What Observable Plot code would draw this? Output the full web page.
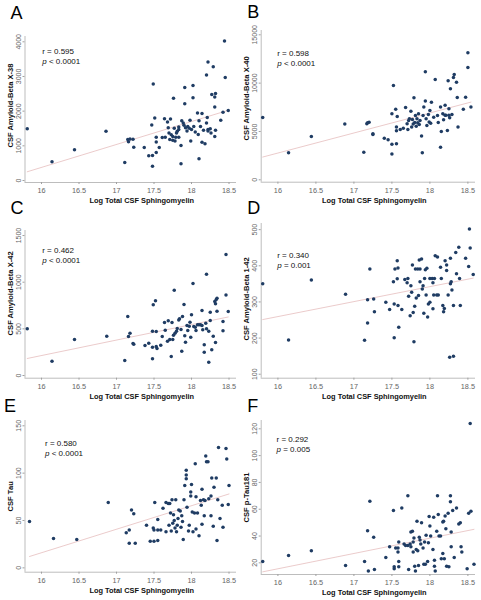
<!DOCTYPE html>
<html>
<head>
<meta charset="utf-8">
<script src="https://cdn.jsdelivr.net/npm/d3@7"></script>
<script src="https://cdn.jsdelivr.net/npm/@observablehq/plot@0.6"></script>
<style>
  html, body { margin: 0; padding: 0; background: #fff; }
  #wrap { position: relative; width: 481px; height: 600px; overflow: hidden; background: #fff; }
  .panel { position: absolute; }
  .panel svg { overflow: visible; }
</style>
</head>
<body>
<div id="wrap"></div>
<script>
// ---- shared values ----
const xLabel = "Log Total CSF Sphingomyelin";
const xTicks = [16, 16.5, 17, 17.5, 18, 18.5];

// ---- panel A: CSF Amyloid-Beta X-38 ----
const ptsA = [[15.81,1490],[16.14,540],[16.44,890],[16.86,1420],[17.11,520],[17.15,1180],[17.16,1120],[17.18,1200],[17.22,1190],[17.23,960],[17.37,950],[17.43,710],[17.47,1600],[17.48,720],[17.48,410],[17.49,2780],[17.51,1800],[17.53,1250],[17.53,1110],[17.53,810],[17.57,950],[17.61,1240],[17.64,1780],[17.65,1250],[17.68,1690],[17.69,1520],[17.70,1370],[17.71,1180],[17.72,1770],[17.73,1320],[17.75,1160],[17.76,2370],[17.75,1270],[17.77,1510],[17.78,1140],[17.79,1250],[17.80,1370],[17.81,1420],[17.83,1470],[17.83,1540],[17.86,1010],[17.86,480],[17.87,1720],[17.89,1660],[17.90,1590],[17.91,2210],[17.91,2680],[17.92,1520],[17.94,1430],[17.95,1560],[17.97,1510],[17.98,1740],[17.99,1140],[18.00,1470],[18.02,2740],[18.02,2390],[18.03,1560],[18.05,1400],[18.08,1950],[18.09,1330],[18.10,630],[18.10,1720],[18.12,1560],[18.14,1930],[18.14,1100],[18.16,1450],[18.18,1060],[18.20,3040],[18.22,3420],[18.20,1660],[18.22,1470],[18.22,1430],[18.21,1820],[18.25,1490],[18.27,2480],[18.29,3280],[18.32,2510],[18.31,2410],[18.31,2120],[18.31,1270],[18.32,1450],[18.39,1740],[18.42,1970],[18.44,4020],[18.45,2970],[18.49,2020],[18.26,1370],[17.83,1250]];
const ticksA = [0, 1000, 2000, 3000, 4000];

// ---- panel B: CSF Amyloid-Beta X-40 ----
const ptsB = [[15.80,6450],[16.14,2790],[16.44,4480],[16.88,5760],[17.13,2860],[17.17,5790],[17.18,5900],[17.20,5960],[17.25,4760],[17.25,4690],[17.40,4310],[17.45,4140],[17.50,6830],[17.50,3690],[17.50,2660],[17.52,9760],[17.55,7310],[17.56,5450],[17.56,5070],[17.57,6550],[17.56,3720],[17.61,5210],[17.65,5340],[17.68,7480],[17.70,5790],[17.71,5210],[17.73,6310],[17.75,7100],[17.76,5450],[17.77,6240],[17.78,5760],[17.79,8480],[17.80,5930],[17.82,5550],[17.83,6310],[17.84,5900],[17.85,6830],[17.86,5720],[17.87,6140],[17.89,4520],[17.90,2790],[17.91,6660],[17.92,7520],[17.94,11170],[17.94,8140],[17.95,6310],[17.96,5620],[17.98,6760],[17.99,5970],[18.00,7170],[18.01,5860],[18.02,8030],[18.07,10380],[18.05,6480],[18.10,6660],[18.11,5930],[18.14,7520],[18.14,3380],[18.15,5000],[18.17,6830],[18.18,6210],[18.20,6690],[18.20,7720],[18.21,6690],[18.23,5100],[18.24,10240],[18.25,7340],[18.25,6690],[18.26,6410],[18.27,9410],[18.29,6760],[18.31,10590],[18.32,10900],[18.35,10100],[18.36,8520],[18.37,5450],[18.44,7310],[18.47,8550],[18.50,13140],[18.50,11620],[18.54,7520],[17.81,6660],[17.72,6140]];
const ticksB = [0, 5000, 10000, 15000];

// ---- panel C: CSF Amyloid-Beta X-42 ----
const ptsC = [[15.81,500],[16.14,154],[16.44,386],[16.87,421],[17.11,161],[17.15,632],[17.16,418],[17.18,454],[17.22,343],[17.23,336],[17.38,321],[17.43,346],[17.48,475],[17.48,304],[17.48,179],[17.49,757],[17.52,800],[17.53,471],[17.53,311],[17.54,289],[17.59,325],[17.61,418],[17.64,568],[17.65,486],[17.68,368],[17.69,586],[17.71,386],[17.73,204],[17.74,568],[17.75,386],[17.76,432],[17.77,914],[17.78,454],[17.80,475],[17.81,504],[17.83,596],[17.84,607],[17.86,493],[17.87,261],[17.88,632],[17.90,761],[17.91,425],[17.92,357],[17.94,536],[17.95,482],[17.97,529],[17.98,571],[17.99,411],[18.00,650],[18.02,986],[18.03,525],[18.05,518],[18.06,482],[18.08,543],[18.10,543],[18.12,543],[18.14,536],[18.14,696],[18.15,489],[18.17,250],[18.17,329],[18.19,561],[18.20,500],[18.20,1086],[18.23,143],[18.23,475],[18.25,679],[18.25,589],[18.27,275],[18.29,421],[18.31,793],[18.33,814],[18.34,828],[18.32,354],[18.34,689],[18.32,768],[18.42,479],[18.46,1296],[18.46,864],[18.49,686],[18.42,579]];
const ticksC = [0, 500, 1000, 1500];

// ---- panel D: CSF Amyloid-Beta 1-42 ----
const ptsD = [[15.80,350],[16.14,195],[16.44,361],[16.89,321],[17.14,194],[17.18,242],[17.18,306],[17.21,391],[17.26,308],[17.27,273],[17.42,299],[17.47,279],[17.52,356],[17.53,294],[17.53,201],[17.54,391],[17.57,364],[17.57,414],[17.58,394],[17.58,290],[17.59,230],[17.63,279],[17.67,362],[17.70,353],[17.71,365],[17.72,316],[17.74,262],[17.75,345],[17.76,327],[17.77,402],[17.78,271],[17.79,190],[17.80,288],[17.81,391],[17.82,311],[17.84,391],[17.85,318],[17.86,416],[17.87,391],[17.87,356],[17.89,419],[17.90,336],[17.91,345],[17.92,269],[17.93,365],[17.94,389],[17.95,319],[17.96,393],[17.97,258],[17.98,294],[18.00,365],[18.00,299],[18.03,365],[18.04,353],[18.04,281],[18.05,319],[18.06,365],[18.07,428],[18.09,319],[18.10,424],[18.11,319],[18.14,396],[18.15,365],[18.17,290],[18.18,273],[18.19,282],[18.20,414],[18.22,402],[18.22,387],[18.24,319],[18.26,147],[18.27,421],[18.27,350],[18.28,356],[18.29,333],[18.31,150],[18.31,290],[18.34,437],[18.35,378],[18.38,451],[18.39,365],[18.40,290],[18.47,421],[18.51,398],[18.52,502],[18.53,449],[18.57,376]];
const ticksD = [100, 200, 300, 400, 500];

// ---- panel E: CSF Tau ----
const ptsE = [[15.84,49],[16.16,31],[16.47,30],[16.89,69],[17.13,37],[17.17,40],[17.17,26],[17.20,61],[17.23,57],[17.25,26],[17.40,45],[17.45,28],[17.49,42],[17.50,40],[17.50,28],[17.51,69],[17.55,40],[17.55,51],[17.55,29],[17.59,40],[17.62,63],[17.66,69],[17.66,38],[17.69,68],[17.70,45],[17.71,68],[17.72,58],[17.73,39],[17.74,72],[17.75,47],[17.76,56],[17.77,50],[17.78,42],[17.79,72],[17.80,38],[17.81,45],[17.82,52],[17.83,61],[17.85,60],[17.86,43],[17.87,55],[17.88,49],[17.89,30],[17.90,72],[17.91,87],[17.93,103],[17.93,94],[17.93,98],[17.94,64],[17.96,39],[17.97,45],[17.99,76],[17.99,80],[18.00,88],[18.01,59],[18.02,38],[18.04,58],[18.05,110],[18.06,75],[18.06,41],[18.08,58],[18.10,34],[18.12,71],[18.13,66],[18.14,83],[18.14,46],[18.16,72],[18.17,55],[18.18,71],[18.19,118],[18.20,112],[18.22,112],[18.23,73],[18.26,55],[18.26,76],[18.27,95],[18.29,44],[18.30,85],[18.33,95],[18.34,29],[18.35,72],[18.36,127],[18.38,52],[18.41,66],[18.42,43],[18.46,126],[18.47,115],[18.49,67],[18.50,87]];
const ticksE = [0, 50, 100, 150];

// ---- panel F: CSF p-Tau181 ----
const ptsF = [[15.80,21],[16.14,25.5],[16.44,29],[16.89,18],[17.14,21],[17.18,44],[17.19,14],[17.21,66],[17.26,39],[17.27,15],[17.42,24],[17.47,32],[17.52,59],[17.53,17],[17.53,15.5],[17.55,31],[17.58,31],[17.58,28],[17.59,35.5],[17.59,21],[17.59,17],[17.63,61],[17.66,34],[17.68,33],[17.71,70],[17.71,33],[17.72,15],[17.74,34],[17.75,32],[17.75,43],[17.77,43.5],[17.78,35.5],[17.78,28],[17.79,38.5],[17.80,17.5],[17.81,14],[17.82,30],[17.83,51],[17.84,29],[17.85,18],[17.86,39],[17.87,37],[17.88,34],[17.89,50],[17.91,31],[17.92,19],[17.93,35.5],[17.94,19],[17.95,40.5],[17.97,21],[17.98,35],[17.99,54.5],[18.00,47.5],[18.01,40],[18.04,30],[18.05,54],[18.06,17.5],[18.06,22],[18.07,14],[18.09,43.5],[18.10,70],[18.11,56],[18.12,40],[18.14,40],[18.15,23],[18.17,27],[18.17,50.5],[18.18,51],[18.19,23],[18.20,55],[18.21,45.5],[18.22,17.5],[18.24,57],[18.25,17],[18.27,70],[18.27,65.5],[18.28,43],[18.28,32],[18.30,59],[18.32,24],[18.35,61],[18.38,49],[18.40,50],[18.41,32],[18.42,28],[18.49,15.5],[18.51,57],[18.54,58.5],[18.53,124],[18.58,19]];
const ticksF = [20, 40, 60, 80, 100, 120];

// ---- labels ----
const letters = ["A", "B", "C", "D", "E", "F"];
const yLabels = ["CSF Amyloid-Beta X-38", "CSF Amyloid-Beta X-40", "CSF Amyloid-Beta X-42", "CSF Amyloid-Beta 1-42", "CSF Tau", "CSF p-Tau181"];
const rTexts = ["r = 0.595", "r = 0.598", "r = 0.462", "r = 0.340", "r = 0.580", "r = 0.292"];
const pTexts = ["< 0.0001", "< 0.0001", "< 0.0001", "= 0.001", "< 0.0001", "= 0.005"];

// ---- layout (positions / sizes only) ----
const layout = [
  {pts: ptsA, ticks: ticksA, yDomain: [-58, 4153],  left: 0,   top: 0,   width: 240, height: 205, mt: 36, mb: 23,   ml: 24.5, mr: 4, ldx: -14.5, ldy: -18, rdx: 17.2, rdy: 14.7, ydy: -4, xdx: 11},
  {pts: ptsB, ticks: ticksB, yDomain: [-248, 15445],left: 240, top: 0,   width: 241, height: 205, mt: 30, mb: 23.3, ml: 20.7, mr: 6, ldx: -14,   ldy: -13, rdx: 16,   rdy: 23.3, ydy: -8, xdx: 6},
  {pts: ptsC, ticks: ticksC, yDomain: [-29, 1554],  left: 0,   top: 195, width: 240, height: 210, mt: 35, mb: 27.3, ml: 24.5, mr: 4, ldx: -14.5, ldy: -17, rdx: 17.2, rdy: 20,   ydy: -11, xdx: 11},
  {pts: ptsD, ticks: ticksD, yDomain: [89, 517],    left: 240, top: 195, width: 241, height: 210, mt: 28, mb: 27.3, ml: 20.7, mr: 6, ldx: -14,   ldy: -10, rdx: 16,   rdy: 32,   ydy: -2, xdx: 6},
  {pts: ptsE, ticks: ticksE, yDomain: [-4.6, 155.6],left: 0,   top: 395, width: 240, height: 205, mt: 25, mb: 28.3, ml: 24.5, mr: 4, ldx: -21,   ldy: -9,  rdx: 20,   rdy: 23.3, ydy: 0, xdx: 11},
  {pts: ptsF, ticks: ticksF, yDomain: [11.3, 126.2],left: 240, top: 395, width: 241, height: 205, mt: 25, mb: 26,   ml: 20.7, mr: 6, ldx: -14,   ldy: -9,  rdx: 15.3, rdy: 19.3, ydy: 0, xdx: 6}
];

const FONT = "'Liberation Sans', Arial, Helvetica, sans-serif";
const wrap = document.getElementById("wrap");

layout.forEach((L, i) => {
  const xDomain = [15.78, 18.6];
  const chart = Plot.plot({
    width: L.width,
    height: L.height,
    marginTop: L.mt,
    marginBottom: L.mb,
    marginLeft: L.ml,
    marginRight: L.mr,
    x: {domain: xDomain},
    y: {domain: L.yDomain},
    style: {background: "transparent", overflow: "visible", fontFamily: FONT},
    marks: [
      Plot.ruleY([L.yDomain[0]], {stroke: "#a0a0a0", strokeWidth: 0.7}),
      Plot.ruleX([xDomain[0]], {stroke: "#a0a0a0", strokeWidth: 0.7}),
      Plot.axisX({ticks: xTicks, tickSize: 2, tickFormat: () => "", label: null, stroke: "#a0a0a0"}),
      Plot.axisY({ticks: L.ticks, tickSize: 2, tickFormat: () => "", label: null, stroke: "#a0a0a0"}),
      Plot.text(xTicks, {x: d => d, text: d => String(d), frameAnchor: "bottom", dy: 8, lineAnchor: "middle", fontSize: 7.3, fill: "#666"}),
      Plot.text(L.ticks, {y: d => d, text: d => String(d), frameAnchor: "left", dx: -6.5, rotate: -90, textAnchor: "middle", lineAnchor: "middle", fontSize: 7, fill: "#666"}),
      Plot.linearRegressionY(L.pts, {x: d => d[0], y: d => d[1], ci: 0, stroke: "#e2b4b4", strokeWidth: 0.7}),
      Plot.dot(L.pts, {x: d => d[0], y: d => d[1], r: 1.75, fill: "#1f3c63", stroke: null}),
      Plot.text([xLabel], {text: d => d, frameAnchor: "bottom", dx: L.xdx, dy: 18.5, lineAnchor: "middle", fontSize: 7.4, fontWeight: "bold", fill: "#111"}),
      Plot.text([yLabels[i]], {text: d => d, frameAnchor: "left", dx: -14.5, dy: L.ydy, rotate: -90, textAnchor: "middle", lineAnchor: "middle", fontSize: 7.6, fontWeight: "bold", fill: "#111"}),
      Plot.text([rTexts[i]], {text: d => d, frameAnchor: "top-left", dx: L.rdx, dy: L.rdy, textAnchor: "start", lineAnchor: "middle", fontSize: 8, fill: "#111"}),
      Plot.text(["p"], {text: d => d, frameAnchor: "top-left", dx: L.rdx, dy: L.rdy + 10, textAnchor: "start", lineAnchor: "middle", fontSize: 8, fontStyle: "italic", fill: "#111"}),
      Plot.text([pTexts[i]], {text: d => d, frameAnchor: "top-left", dx: L.rdx + 6.7, dy: L.rdy + 10, textAnchor: "start", lineAnchor: "middle", fontSize: 8, fill: "#111"}),
      Plot.text([letters[i]], {text: d => d, frameAnchor: "top-left", dx: L.ldx, dy: L.ldy, textAnchor: "start", lineAnchor: "bottom", fontSize: 18, fill: "#000"})
    ]
  });
  const div = document.createElement("div");
  div.className = "panel";
  div.style.left = L.left + "px";
  div.style.top = L.top + "px";
  div.style.width = L.width + "px";
  div.style.height = L.height + "px";
  div.appendChild(chart);
  wrap.appendChild(div);
});
</script>
</body>
</html>
